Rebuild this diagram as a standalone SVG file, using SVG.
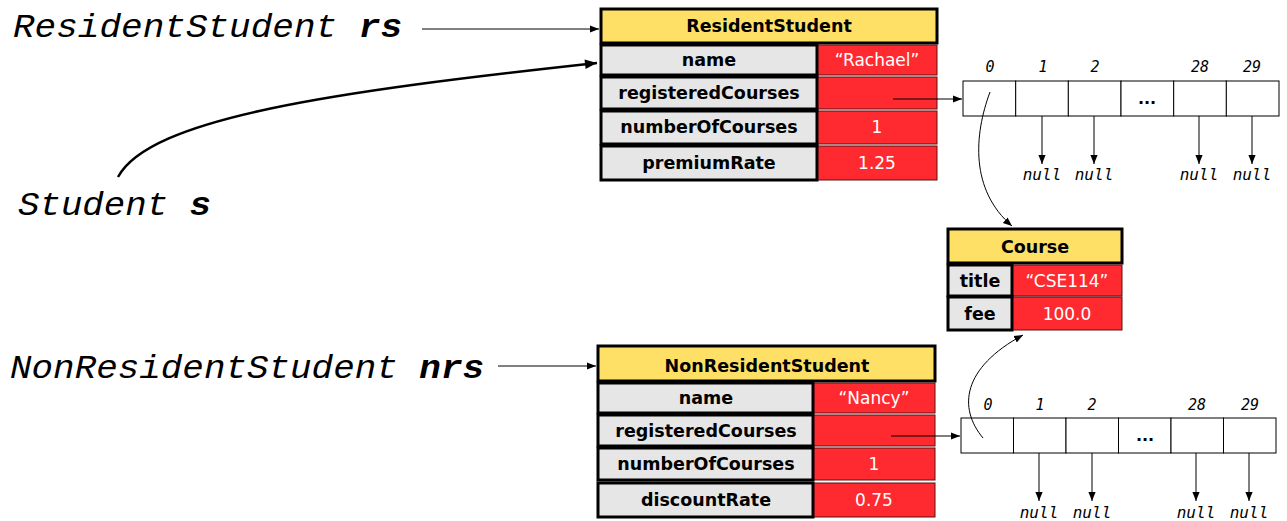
<svg xmlns="http://www.w3.org/2000/svg" width="1287" height="521" viewBox="0 0 1287 521">
<style>
.hdr{fill:#ffe066;stroke:#000;stroke-width:3}
.key{fill:#e6e6e6;stroke:#000;stroke-width:3}
.val{fill:#ff2a2f;stroke:#5a1010;stroke-width:1}
.kt{font-family:"DejaVu Sans",Verdana,sans-serif;font-weight:bold;font-size:17.5px;fill:#000;text-anchor:middle}
.vt{font-family:"DejaVu Sans",Verdana,sans-serif;font-size:17px;fill:#fff;text-anchor:middle}
.cell{fill:#fff;stroke:#000;stroke-width:1}
.idx{font-family:"DejaVu Sans Mono",monospace;font-style:italic;font-size:15px;fill:#000;text-anchor:middle}
.nul{font-family:"DejaVu Sans Mono",monospace;font-style:italic;font-size:16px;fill:#000;text-anchor:middle}
.dots{font-family:"DejaVu Sans",sans-serif;font-weight:bold;font-size:16px;text-anchor:middle}
.var{font-family:"Liberation Mono","Courier New",monospace;font-style:italic;font-size:34px;fill:#000}
.ln{fill:none;stroke:#000;stroke-width:1}
.thick{fill:none;stroke:#000;stroke-width:2.5}
</style>
<defs>
<marker id="ah" viewBox="0 0 10 10" refX="10" refY="5" markerWidth="9" markerHeight="9" markerUnits="userSpaceOnUse" orient="auto"><path d="M0,1 L10,5 L0,9 z" fill="#000"/></marker>
<marker id="ahb" viewBox="0 0 10 10" refX="10" refY="5" markerWidth="14" markerHeight="12" markerUnits="userSpaceOnUse" orient="auto"><path d="M0,1 L10,5 L0,9 z" fill="#000"/></marker>
</defs>

<g id="var-rs"><text class="var" x="13" y="37" textLength="389" lengthAdjust="spacingAndGlyphs">ResidentStudent <tspan font-weight="bold">rs</tspan></text></g>
<g id="var-s"><text class="var" x="18" y="215" textLength="193" lengthAdjust="spacingAndGlyphs">Student <tspan font-weight="bold">s</tspan></text></g>
<g id="var-nrs"><text class="var" x="10" y="378" textLength="474" lengthAdjust="spacingAndGlyphs">NonResidentStudent <tspan font-weight="bold">nrs</tspan></text></g>

<g id="resident-student">
<rect class="hdr" x="601" y="9" width="336" height="34"/>
<text class="kt" x="769" y="32">ResidentStudent</text>
<rect class="val" x="817" y="45" width="120" height="30"/>
<rect class="val" x="817" y="77" width="120" height="32"/>
<rect class="val" x="817" y="111" width="120" height="33"/>
<rect class="val" x="817" y="146" width="120" height="34"/>
<rect class="key" x="601" y="45" width="216" height="30"/>
<rect class="key" x="601" y="77" width="216" height="32"/>
<rect class="key" x="601" y="111" width="216" height="33"/>
<rect class="key" x="601" y="146" width="216" height="34"/>
<text class="kt" x="709" y="66">name</text>
<text class="kt" x="709" y="99">registeredCourses</text>
<text class="kt" x="709" y="133">numberOfCourses</text>
<text class="kt" x="709" y="169">premiumRate</text>
<text class="vt" x="877" y="66">“Rachael”</text>
<text class="vt" x="877" y="133">1</text>
<text class="vt" x="877" y="169">1.25</text>
</g>

<g id="array-rs">
<rect class="cell" x="963" y="81" width="52.7" height="35"/>
<rect class="cell" x="1015.7" y="81" width="52.7" height="35"/>
<rect class="cell" x="1068.3" y="81" width="52.7" height="35"/>
<rect class="cell" x="1121" y="81" width="52.7" height="35"/>
<rect class="cell" x="1173.7" y="81" width="52.7" height="35"/>
<rect class="cell" x="1226.3" y="81" width="52.7" height="35"/>
<text class="idx" x="990" y="72">0</text>
<text class="idx" x="1043" y="72">1</text>
<text class="idx" x="1095" y="72">2</text>
<text class="idx" x="1200" y="72">28</text>
<text class="idx" x="1252" y="72">29</text>
<text class="dots" x="1147" y="104">...</text>
<text class="nul" x="1042" y="180">null</text>
<text class="nul" x="1094" y="180">null</text>
<text class="nul" x="1199" y="180">null</text>
<text class="nul" x="1252" y="180">null</text>
</g>

<g id="course">
<rect class="hdr" x="948" y="229" width="174" height="34"/>
<text class="kt" x="1035" y="253">Course</text>
<rect class="val" x="1012" y="265" width="110" height="31"/>
<rect class="val" x="1012" y="297" width="110" height="33"/>
<rect class="key" x="948" y="265" width="64" height="31"/>
<rect class="key" x="948" y="297" width="64" height="33"/>
<text class="kt" x="980" y="287">title</text>
<text class="kt" x="980" y="320">fee</text>
<text class="vt" x="1067" y="287">“CSE114”</text>
<text class="vt" x="1067" y="320">100.0</text>
</g>

<g id="nonresident-student">
<rect class="hdr" x="598" y="346" width="337" height="35"/>
<text class="kt" x="767" y="372">NonResidentStudent</text>
<rect class="val" x="813" y="383" width="122" height="30"/>
<rect class="val" x="813" y="415" width="122" height="31"/>
<rect class="val" x="813" y="448" width="122" height="32"/>
<rect class="val" x="813" y="483" width="122" height="34"/>
<rect class="key" x="598" y="383" width="215" height="30"/>
<rect class="key" x="598" y="415" width="215" height="31"/>
<rect class="key" x="598" y="448" width="215" height="32"/>
<rect class="key" x="598" y="483" width="215" height="34"/>
<text class="kt" x="706" y="404">name</text>
<text class="kt" x="706" y="437">registeredCourses</text>
<text class="kt" x="706" y="470">numberOfCourses</text>
<text class="kt" x="706" y="506">discountRate</text>
<text class="vt" x="874" y="404">“Nancy”</text>
<text class="vt" x="874" y="470">1</text>
<text class="vt" x="874" y="506">0.75</text>
</g>

<g id="array-nrs">
<rect class="cell" x="961" y="418" width="52.5" height="35"/>
<rect class="cell" x="1013.5" y="418" width="52.5" height="35"/>
<rect class="cell" x="1066" y="418" width="52.5" height="35"/>
<rect class="cell" x="1118.5" y="418" width="52.5" height="35"/>
<rect class="cell" x="1171" y="418" width="52.5" height="35"/>
<rect class="cell" x="1223.5" y="418" width="52.5" height="35"/>
<text class="idx" x="988" y="410">0</text>
<text class="idx" x="1040" y="410">1</text>
<text class="idx" x="1092" y="410">2</text>
<text class="idx" x="1197" y="410">28</text>
<text class="idx" x="1250" y="410">29</text>
<text class="dots" x="1145" y="441">...</text>
<text class="nul" x="1039" y="518">null</text>
<text class="nul" x="1092" y="518">null</text>
<text class="nul" x="1196" y="518">null</text>
<text class="nul" x="1249" y="518">null</text>
</g>

<g id="connectors">
<line class="ln" x1="422" y1="29" x2="599" y2="29" marker-end="url(#ah)"/>
<path class="thick" d="M118 177 C150 118 330 92 597 63" marker-end="url(#ahb)"/>
<line class="ln" x1="498" y1="366" x2="596" y2="366" marker-end="url(#ah)"/>
<line class="ln" x1="893" y1="99" x2="962" y2="99" marker-end="url(#ah)"/>
<line class="ln" x1="891" y1="436" x2="960" y2="436" marker-end="url(#ah)"/>
<path class="ln" d="M990 92 C974 135 970 190 1012 226" marker-end="url(#ah)"/>
<path class="ln" d="M983 438 C958 408 962 368 1023 335" marker-end="url(#ah)"/>
<line class="ln" x1="1042" y1="116" x2="1042" y2="164" marker-end="url(#ah)"/>
<line class="ln" x1="1094" y1="116" x2="1094" y2="164" marker-end="url(#ah)"/>
<line class="ln" x1="1199" y1="116" x2="1199" y2="164" marker-end="url(#ah)"/>
<line class="ln" x1="1252" y1="116" x2="1252" y2="164" marker-end="url(#ah)"/>
<line class="ln" x1="1039" y1="453" x2="1039" y2="501" marker-end="url(#ah)"/>
<line class="ln" x1="1092" y1="453" x2="1092" y2="501" marker-end="url(#ah)"/>
<line class="ln" x1="1196" y1="453" x2="1196" y2="501" marker-end="url(#ah)"/>
<line class="ln" x1="1249" y1="453" x2="1249" y2="501" marker-end="url(#ah)"/>
</g>
</svg>
